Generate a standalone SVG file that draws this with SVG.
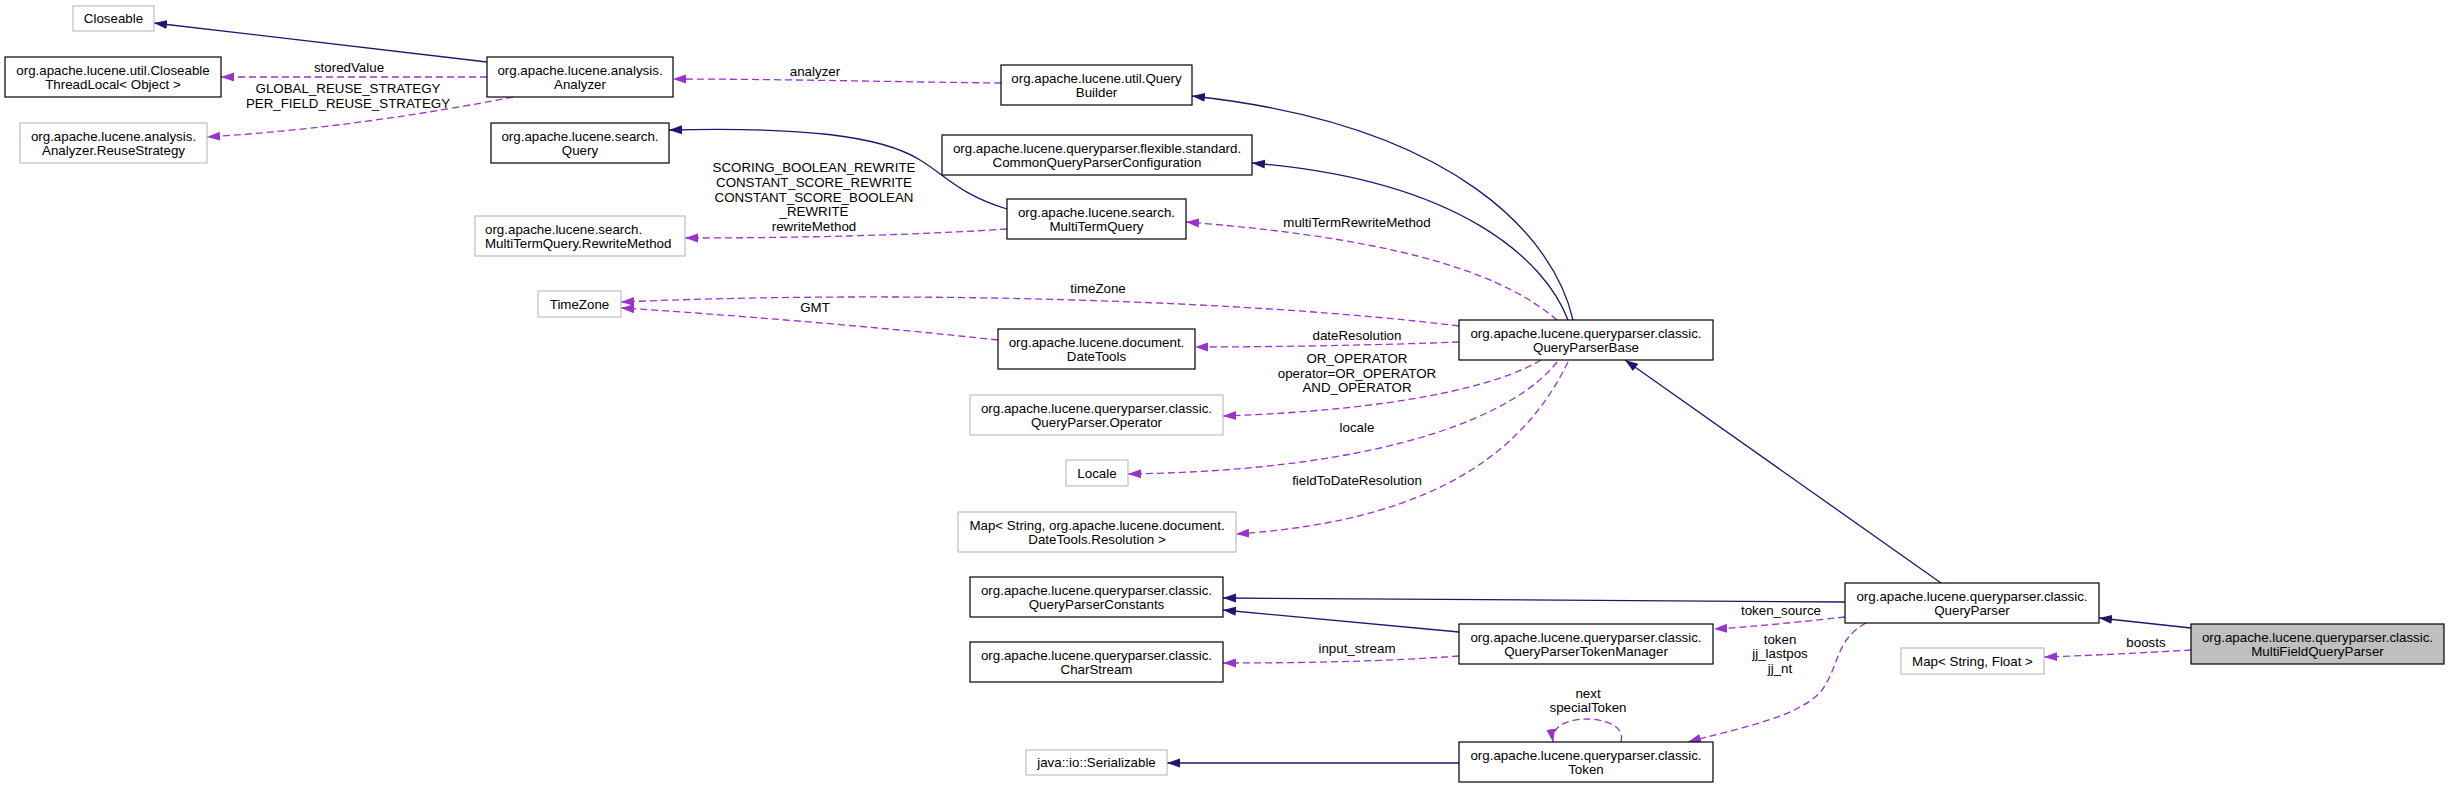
<svg xmlns="http://www.w3.org/2000/svg" width="2449" height="789" viewBox="0 0 2449 789">
<defs>
<style>
text{font-family:"Liberation Sans",Arial,Helvetica,sans-serif;font-size:13.33px;fill:#000;text-anchor:middle}
.n rect{fill:#fff;stroke:#000;stroke-width:1.2}
.n.u rect{stroke:#bfbfbf}
.n.m rect{fill:#bfbfbf}
.e{fill:none;stroke:#191970;stroke-width:1.3;marker-end:url(#an)}
.d{fill:none;stroke:#9a32cd;stroke-width:1.3;stroke-dasharray:7,4;marker-end:url(#ap)}
</style>
<marker id="an" viewBox="0 0 13 10" refX="13" refY="5" markerWidth="13" markerHeight="10" markerUnits="userSpaceOnUse" orient="auto"><path d="M0,0.5 L13,5 L0,9.5 z" fill="#191970"/></marker>
<marker id="ap" viewBox="0 0 13 10" refX="13" refY="5" markerWidth="13" markerHeight="10" markerUnits="userSpaceOnUse" orient="auto"><path d="M0,0.5 L13,5 L0,9.5 z" fill="#9a32cd"/></marker>
</defs>
<rect width="2449" height="789" fill="#fff"/>
<g id="connectors">
<path class="e" d="M2191,628 L2099,618"/>
<path class="d" d="M2191,650 C2140,653 2080,656 2044,657"/>
<text x="2146" y="647">boosts</text>
<path class="e" d="M1941,583 L1625,360"/>
<path class="e" d="M1845,602 L1223,598"/>
<path class="d" d="M1845,617 C1800,622 1750,627 1714,629"/>
<text x="1781" y="615">token_source</text>
<path class="d" d="M1866,623 C1835,640 1840,665 1822,690 C1800,718 1730,730 1688,742"/>
<text x="1780" y="644">token</text>
<text x="1780" y="658">jj_lastpos</text>
<text x="1780" y="673">jj_nt</text>
<path class="e" d="M1459,632 L1223,610"/>
<path class="d" d="M1459,656 C1380,662 1290,663 1223,663"/>
<text x="1357" y="653">input_stream</text>
<path class="e" d="M1459,763 L1167,763"/>
<path class="d" d="M1621,742 C1626,724 1600,719 1588,719 C1572,719 1550,724 1553,742"/>
<text x="1588" y="698">next</text>
<text x="1588" y="712">specialToken</text>
<path class="e" d="M1573,320 C1555,240 1460,125 1192,96"/>
<path class="e" d="M1568,320 C1545,260 1460,180 1252,163"/>
<path class="d" d="M1557,320 C1510,280 1420,240 1186,222"/>
<text x="1357" y="227">multiTermRewriteMethod</text>
<path class="e" d="M1007,209 C960,195 945,175 920,160 C880,135 800,127 669,130"/>
<path class="d" d="M1007,229 C900,236 780,238 685,238"/>
<text x="814" y="172">SCORING_BOOLEAN_REWRITE</text>
<text x="814" y="187">CONSTANT_SCORE_REWRITE</text>
<text x="814" y="202">CONSTANT_SCORE_BOOLEAN</text>
<text x="814" y="216">_REWRITE</text>
<text x="814" y="231">rewriteMethod</text>
<path class="d" d="M1459,326 C1250,300 900,290 621,302"/>
<text x="1098" y="293">timeZone</text>
<path class="d" d="M998,340 C880,327 720,314 621,308"/>
<text x="815" y="312">GMT</text>
<path class="d" d="M1459,342 C1380,345 1280,347 1195,347"/>
<text x="1357" y="340">dateResolution</text>
<path class="d" d="M1541,360 C1500,385 1400,410 1223,416"/>
<text x="1357" y="363">OR_OPERATOR</text>
<text x="1357" y="378">operator=OR_OPERATOR</text>
<text x="1357" y="392">AND_OPERATOR</text>
<path class="d" d="M1557,362 C1520,410 1400,470 1128,474"/>
<text x="1357" y="432">locale</text>
<path class="d" d="M1568,362 C1530,440 1450,520 1236,534"/>
<text x="1357" y="485">fieldToDateResolution</text>
<path class="d" d="M1001,83 C900,82 780,79 673,79"/>
<text x="815" y="76">analyzer</text>
<path class="e" d="M487,62 L154,23"/>
<path class="d" d="M487,77 L221,77"/>
<text x="349" y="72">storedValue</text>
<path class="d" d="M513,97 C420,115 320,130 207,137"/>
<text x="348" y="93">GLOBAL_REUSE_STRATEGY</text>
<text x="348" y="108">PER_FIELD_REUSE_STRATEGY</text>
</g>
<g id="MultiFieldQueryParser" class="n m"><rect x="2191" y="624" width="253" height="40"/><text x="2317.5" y="641.5">org.apache.lucene.queryparser.classic.</text><text x="2317.5" y="656">MultiFieldQueryParser</text></g>
<g id="QueryParser" class="n"><rect x="1845" y="583" width="254" height="40"/><text x="1972" y="600.5">org.apache.lucene.queryparser.classic.</text><text x="1972" y="615">QueryParser</text></g>
<g id="QueryParserBase" class="n"><rect x="1459" y="320" width="254" height="40"/><text x="1586" y="337.5">org.apache.lucene.queryparser.classic.</text><text x="1586" y="352">QueryParserBase</text></g>
<g id="QueryBuilder" class="n"><rect x="1001" y="65" width="191" height="40"/><text x="1096.5" y="82.5">org.apache.lucene.util.Query</text><text x="1096.5" y="97">Builder</text></g>
<g id="Analyzer" class="n"><rect x="487" y="57" width="186" height="40"/><text x="580" y="74.5">org.apache.lucene.analysis.</text><text x="580" y="89">Analyzer</text></g>
<g id="Closeable" class="n u"><rect x="73" y="6" width="81" height="25"/><text x="113.5" y="23">Closeable</text></g>
<g id="CloseableThreadLocal" class="n"><rect x="5" y="57" width="216" height="40"/><text x="113" y="74.5">org.apache.lucene.util.Closeable</text><text x="113" y="89">ThreadLocal&lt; Object &gt;</text></g>
<g id="ReuseStrategy" class="n u"><rect x="20" y="123" width="187" height="40"/><text x="113.5" y="140.5">org.apache.lucene.analysis.</text><text x="113.5" y="155">Analyzer.ReuseStrategy</text></g>
<g id="CommonQueryParserConfiguration" class="n"><rect x="942" y="135" width="310" height="40"/><text x="1097" y="152.5">org.apache.lucene.queryparser.flexible.standard.</text><text x="1097" y="167">CommonQueryParserConfiguration</text></g>
<g id="MultiTermQuery" class="n"><rect x="1007" y="199" width="179" height="40"/><text x="1096.5" y="216.5">org.apache.lucene.search.</text><text x="1096.5" y="231">MultiTermQuery</text></g>
<g id="Query" class="n"><rect x="491" y="123" width="178" height="40"/><text x="580" y="140.5">org.apache.lucene.search.</text><text x="580" y="155">Query</text></g>
<g id="RewriteMethod" class="n u"><rect x="475" y="216" width="210" height="40"/><text x="485" y="233.5" style="text-anchor:start">org.apache.lucene.search.</text><text x="485" y="248" style="text-anchor:start">MultiTermQuery.RewriteMethod</text></g>
<g id="TimeZone" class="n u"><rect x="538" y="291" width="83" height="26"/><text x="579.5" y="308.5">TimeZone</text></g>
<g id="DateTools" class="n"><rect x="998" y="329" width="197" height="40"/><text x="1096.5" y="346.5">org.apache.lucene.document.</text><text x="1096.5" y="361">DateTools</text></g>
<g id="Operator" class="n u"><rect x="970" y="395" width="253" height="40"/><text x="1096.5" y="412.5">org.apache.lucene.queryparser.classic.</text><text x="1096.5" y="427">QueryParser.Operator</text></g>
<g id="Locale" class="n u"><rect x="1066" y="460" width="62" height="26"/><text x="1097" y="477.5">Locale</text></g>
<g id="MapDateToolsResolution" class="n u"><rect x="958" y="512" width="278" height="40"/><text x="1097" y="529.5">Map&lt; String, org.apache.lucene.document.</text><text x="1097" y="544">DateTools.Resolution &gt;</text></g>
<g id="QueryParserConstants" class="n"><rect x="970" y="577" width="253" height="40"/><text x="1096.5" y="594.5">org.apache.lucene.queryparser.classic.</text><text x="1096.5" y="609">QueryParserConstants</text></g>
<g id="CharStream" class="n"><rect x="970" y="642" width="253" height="40"/><text x="1096.5" y="659.5">org.apache.lucene.queryparser.classic.</text><text x="1096.5" y="674">CharStream</text></g>
<g id="QueryParserTokenManager" class="n"><rect x="1459" y="624" width="254" height="40"/><text x="1586" y="641.5">org.apache.lucene.queryparser.classic.</text><text x="1586" y="656">QueryParserTokenManager</text></g>
<g id="MapStringFloat" class="n u"><rect x="1901" y="648" width="143" height="26"/><text x="1972.5" y="665.5">Map&lt; String, Float &gt;</text></g>
<g id="Serializable" class="n u"><rect x="1026" y="750" width="141" height="25"/><text x="1096.5" y="767">java::io::Serializable</text></g>
<g id="Token" class="n"><rect x="1459" y="742" width="254" height="40"/><text x="1586" y="759.5">org.apache.lucene.queryparser.classic.</text><text x="1586" y="774">Token</text></g>
</svg>
